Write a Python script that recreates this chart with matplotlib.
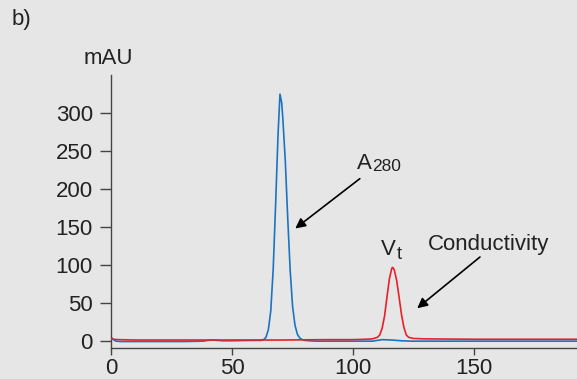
import matplotlib
matplotlib.use("Agg")
import matplotlib.pyplot as plt

plt.rcParams['font.family'] = ['Liberation Sans', 'DejaVu Sans']

# A280 trace (mAU)
blue_x = [0, 1, 2, 4, 10, 20, 30, 38, 40, 42, 44, 46, 50, 55, 58, 60, 62, 63, 64, 65, 66, 67, 68, 69,
          69.8, 70.5, 71, 72, 73, 74, 75, 76, 77, 78, 79, 80, 82, 85, 90, 100, 108, 112, 116, 120, 124,
          130, 150, 170, 193]
blue_y = [5, 2, 0, -0.5, -0.5, -0.5, -0.5, 0, 1, 1.5, 1, 0.5, 0.5, 0.8, 1, 1, 1, 2, 5, 15, 40, 95, 180, 272,
          325, 314, 292, 237, 162, 94, 46, 21, 9, 4, 2, 1, 0.5, 0, 0, 0, 0, 2, 1.5, 0.5, 0,
          0, 0, 0, 0]

# Conductivity trace
red_x = [0, 1, 3, 10, 30, 50, 70, 90, 100, 105, 108, 110, 111, 112, 113, 114, 115, 116, 116.4, 117, 118,
         119, 120, 121, 122, 123, 125, 130, 150, 170, 193]
red_y = [3, 2.5, 2, 1.5, 1.5, 1.5, 1.5, 2, 2, 2.5, 3, 5, 8, 17, 33, 58, 82, 96, 97, 94, 80,
         58, 35, 18, 8, 5, 3.5, 3, 2.5, 2.5, 2.5]

x_ticks = [0, 50, 100, 150]
y_ticks = [0, 50, 100, 150, 200, 250, 300]

bg = '#e6e6e6'
txt = '#222222'
fig = plt.figure(figsize=(5.77, 3.79), dpi=100, facecolor=bg)
ax = fig.add_axes([0.1924, 0.0818, 0.8076, 0.720])
ax.set_facecolor(bg)

ax.plot(blue_x, blue_y, color='#1a74c2', lw=1.2, zorder=2)
ax.plot(red_x, red_y, color='#e8202a', lw=1.2, zorder=3)

ax.set_xlim(0, 192.5)
ax.set_ylim(-9, 350)
ax.set_xticks(x_ticks)
ax.set_yticks(y_ticks)

for s in ['top', 'right']:
    ax.spines[s].set_visible(False)
for s in ['left', 'bottom']:
    ax.spines[s].set_color('#444444')
    ax.spines[s].set_linewidth(1.0)
ax.tick_params(axis='y', direction='out', length=8, width=1, color='#444444',
               labelsize=16, labelcolor=txt, pad=5)
ax.tick_params(axis='x', direction='out', length=5, width=1, color='#444444',
               labelsize=16, labelcolor=txt, pad=2.5)

fs = 16
ax.annotate('', xy=(75.2, 146), xytext=(103.7, 216),
            arrowprops=dict(arrowstyle='-|>', color='black', lw=1.2, mutation_scale=15))
ax.annotate('', xy=(125.6, 41), xytext=(153.3, 113),
            arrowprops=dict(arrowstyle='-|>', color='black', lw=1.2, mutation_scale=15))

# A280 label
ax.text(101.5, 226, 'A', fontsize=fs, color=txt, ha='left', va='baseline')
ax.annotate('280', xy=(101.5, 226), xytext=(10.9, -1.2), textcoords='offset points',
            fontsize=12.5, color=txt, ha='left', va='baseline')
# Vt label
ax.text(111.4, 113, 'V', fontsize=fs, color=txt, ha='left', va='baseline')
ax.annotate('t', xy=(111.4, 113), xytext=(11.6, -3), textcoords='offset points',
            fontsize=13, color=txt, ha='left', va='baseline')
ax.text(155.8, 119.7, 'Conductivity', fontsize=fs, color=txt, ha='center', va='baseline')

fig.text(108 / 577, 1 - 59 / 379, 'mAU', fontsize=fs, color=txt, ha='center', va='center')
fig.text(21 / 577, 1 - 19 / 379, 'b)', fontsize=fs, color=txt, ha='center', va='center')

fig.savefig('out.png', dpi=100, facecolor=bg)
